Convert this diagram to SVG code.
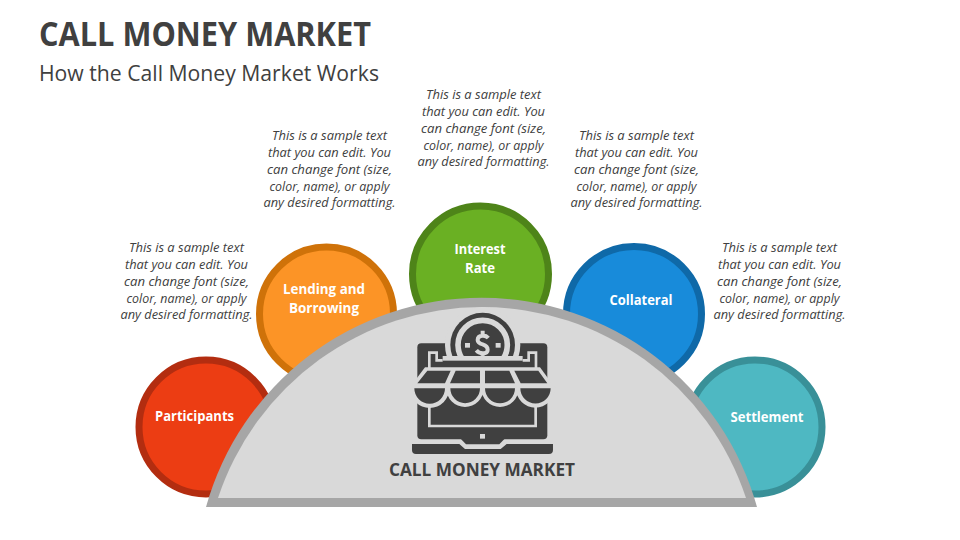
<svg xmlns="http://www.w3.org/2000/svg" width="960" height="540" viewBox="0 0 960 540">
<style>
text{font-family:"Open Sans","Noto Sans","Liberation Sans",sans-serif}
.p{font-size:12px;font-style:italic;fill:#404040;text-anchor:middle}
.n{font-size:14px;font-weight:700;fill:#fff;text-anchor:middle}
.c{stroke-width:7}
.d{fill:#404040}
.l{fill:#d9d9d9}
.s{fill:none;stroke:#d9d9d9}
</style>
<defs>
<clipPath id="coinclip"><rect x="150" y="20" width="260" height="150"/></clipPath>
<g id="para">
<text class="p" y="0" textLength="115" lengthAdjust="spacingAndGlyphs">This is a sample text</text>
<text class="p" y="17" textLength="123" lengthAdjust="spacingAndGlyphs">that you can edit. You</text>
<text class="p" y="34" textLength="125" lengthAdjust="spacingAndGlyphs">can change font (size,</text>
<text class="p" y="51" textLength="120" lengthAdjust="spacingAndGlyphs">color, name), or apply</text>
<text class="p" y="67" textLength="132" lengthAdjust="spacingAndGlyphs">any desired formatting.</text>
</g>
</defs>
<rect width="960" height="540" fill="#fff"/>
<g id="title">
<text x="39" y="46" font-size="34" font-weight="700" fill="#404040" textLength="332" lengthAdjust="spacingAndGlyphs">CALL MONEY MARKET</text>
<text x="39" y="81" font-size="21" fill="#404040" textLength="340" lengthAdjust="spacingAndGlyphs">How the Call Money Market Works</text>
</g>
<g id="node-participants">
<circle class="c" cx="206" cy="427" r="67" fill="#EC3D13" stroke="#B32D10"/>
<text class="n" x="194.500" y="421" textLength="79" lengthAdjust="spacingAndGlyphs">Participants</text>
<use href="#para" x="186.500" y="252"/>
</g>
<g id="node-lending">
<circle class="c" cx="326.500" cy="314" r="67" fill="#FC9426" stroke="#CF7209"/>
<text class="n" x="324" y="294" textLength="82" lengthAdjust="spacingAndGlyphs">Lending and</text>
<text class="n" x="324" y="313" textLength="70" lengthAdjust="spacingAndGlyphs">Borrowing</text>
<use href="#para" x="329.500" y="140"/>
</g>
<g id="node-interest">
<circle class="c" cx="480.500" cy="274" r="68" fill="#6AB023" stroke="#4E8419"/>
<text class="n" x="480" y="254" textLength="51" lengthAdjust="spacingAndGlyphs">Interest</text>
<text class="n" x="480" y="273" textLength="30" lengthAdjust="spacingAndGlyphs">Rate</text>
<use href="#para" x="483.500" y="99"/>
</g>
<g id="node-collateral">
<circle class="c" cx="634" cy="314" r="67.500" fill="#188BDA" stroke="#0F69A8"/>
<text class="n" x="641" y="305" textLength="63" lengthAdjust="spacingAndGlyphs">Collateral</text>
<use href="#para" x="636.500" y="140"/>
</g>
<g id="node-settlement">
<circle class="c" cx="755" cy="427" r="67" fill="#4EB8C2" stroke="#399098"/>
<text class="n" x="767" y="422" textLength="73" lengthAdjust="spacingAndGlyphs">Settlement</text>
<use href="#para" x="779.500" y="252"/>
</g>
<g id="node-center">
<path d="M206 507A286 286 0 0 1 757 507Z" fill="#a6a6a6"/>
<path d="M218 498A278 278 0 0 1 746 498Z" fill="#d9d9d9"/>
<g id="icon" transform="translate(390 300) scale(.3333)">
<rect class="d" x="82" y="130" width="390" height="288" rx="12"/>
<path class="d" d="M212 416L228 433H328L344 416Z"/>
<path class="d" d="M66 432H208L225 447H332L350 432H489V450Q489 462 477 462H78Q66 462 66 450Z"/>
<circle class="l" cx="278" cy="135" r="113" clip-path="url(#coinclip)"/>
<g clip-path="url(#coinclip)">
<circle class="d" cx="278" cy="135" r="97"/>
<circle cx="278" cy="135" r="74" fill="none" stroke="#d9d9d9" stroke-width="17"/>
</g>
<rect class="l" x="225" y="129" width="15" height="14"/>
<rect class="l" x="317" y="129" width="15" height="14"/>
<path class="s" stroke-width="12" d="M295 114Q288 106 277 107Q263 108 263 120Q263 129 278 133Q293 138 293 149Q293 160 278 160Q266 160 259 151M278 92V106M278 160V172"/>
<rect class="l" x="158" y="168" width="240" height="14"/>
<path class="s" stroke-width="8" d="M118 205V158H140V181H158M398 181H416V158H438V205"/>
<path class="s" stroke-width="8" d="M118 310V378H437V310"/>
<path class="l" d="M105 202H450L494 262V268H60V262Z"/>
<path class="d" d="M82 250L112 212H182L165 250ZM180 250L197 212H270V250ZM285 212H358L375 250H285ZM373 212H445L472 250H392Z"/>
<path class="l" d="M60 265H178A59 59 0 0 1 60 265ZM169 265H281A56 56 0 0 1 169 265ZM274 265H386A56 56 0 0 1 274 265ZM378 265H494A58 58 0 0 1 378 265Z"/>
<path class="d" d="M73 265H165A46 46 0 0 1 73 265ZM181 265H270A44.500 44.500 0 0 1 181 265ZM285 265H375A45 45 0 0 1 285 265ZM391 265H482A45.500 45.500 0 0 1 391 265Z"/>
<rect class="l" x="270" y="402" width="15" height="14"/>
</g>
<text x="482" y="476" font-size="18" font-weight="700" fill="#404040" text-anchor="middle" textLength="186" lengthAdjust="spacingAndGlyphs">CALL MONEY MARKET</text>
</g>
</svg>
